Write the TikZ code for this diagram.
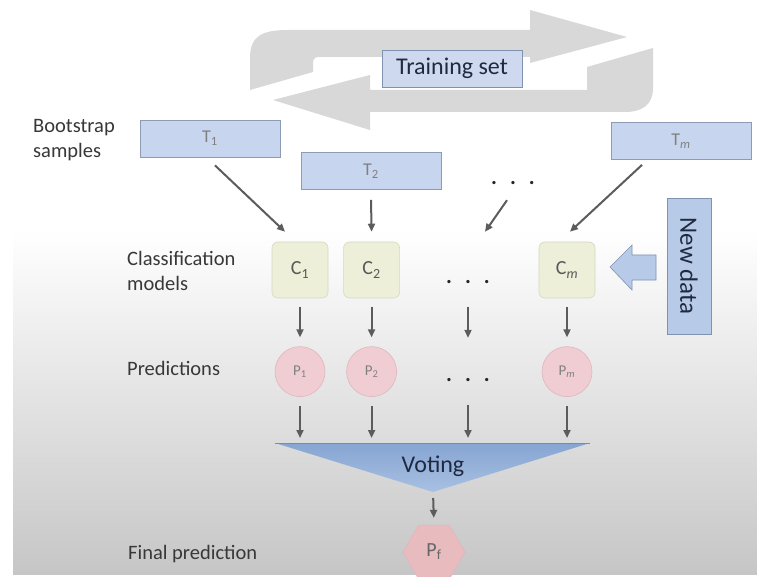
\documentclass[tikz,border=0pt]{standalone}
\usepackage{fontspec}
\setmainfont{Carlito}
\usepackage{tikz}
\usetikzlibrary{arrows.meta,positioning,shapes.geometric}
\definecolor{bgGrey}{HTML}{C6C6C6}
\definecolor{bgMid}{HTML}{EEEEEE}
\definecolor{loopGrey}{HTML}{D8D8D8}
\definecolor{sampleFill}{HTML}{C8D5EE}
\definecolor{sampleEdge}{HTML}{8D9BB5}
\definecolor{trainFill}{HTML}{CED8EF}
\definecolor{inkNavy}{HTML}{1F2A40}
\definecolor{modelFill}{HTML}{EDEFD9}
\definecolor{modelEdge}{HTML}{D6D9BF}
\definecolor{predFill}{HTML}{F0CDD3}
\definecolor{predEdge}{HTML}{E0B6BE}
\definecolor{finalFill}{HTML}{E8BBBF}
\definecolor{voteTop}{HTML}{86A5D2}
\definecolor{voteLow}{HTML}{A8C0E2}
\definecolor{dataFill}{HTML}{B7CBE8}
\definecolor{dataEdge}{HTML}{7F92B0}
\definecolor{linkGrey}{HTML}{5C5C5C}
\newcommand{\fsz}[1]{\fontsize{#1}{#1}\selectfont}

\begin{document}
\begin{tikzpicture}[x=1pt, y=-1pt,
  lbl/.style={font=\fontsize{20.5pt}{25pt}\selectfont, text=black!78, align=left, anchor=west, inner sep=0pt},
  sample/.style={draw=sampleEdge, line width=0.8pt, fill=sampleFill, minimum width=140pt,
                 minimum height=37pt, inner sep=0pt, text=black!50, font=\fsz{18}},
  model/.style={draw=modelEdge, line width=0.6pt, fill=modelFill, rounded corners=6pt,
                minimum size=56pt, inner sep=0pt, text=black!65, font=\fsz{20}},
  pred/.style={circle, draw=predEdge, line width=0.6pt, fill=predFill, minimum size=50pt,
               inner sep=0pt, text=black!50, font=\fsz{15}},
  dots/.style={inner sep=0pt, minimum width=44pt, minimum height=10pt, font=\fsz{22}\bfseries, text=black!85},
  link/.style={draw=linkGrey, line width=2pt, -{Triangle[length=8pt,width=7pt]}},
  loop/.style={fill=loopGrey}
]
  % page and soft grey floor
  \fill[white] (0,0) rectangle (757,577);
  \shade[top color=white, middle color=bgMid, bottom color=bgGrey] (13,230) rectangle (757,574);
  \useasboundingbox (0,0) rectangle (757,577);

  % the two turning arrows round the training set
  \fill[loop] (250,90) -- (250,58) .. controls (250,36) and (262,30) .. (288,30) -- (530,30)
    -- (530,10) -- (627,37) -- (530,63) -- (530,57) -- (318,57)
    .. controls (314,57) and (313,60) .. (313,64) -- (313,72) -- cycle;
  \fill[loop] (273,100) -- (370,75) -- (370,90) -- (587,90) -- (587,67) -- (653,48) -- (653,88)
    .. controls (653,104) and (643,112) .. (625,112) -- (370,112) -- (370,130) -- cycle;
  \node[draw=dataEdge, line width=0.8pt, fill=trainFill, minimum width=140pt, minimum height=37pt,
        text=inkNavy, font=\fsz{24}] (trainset) at (452,68.5) {Training set};

  % row labels
  \node[lbl] (bootlbl) at (33,140) {Bootstrap\\samples};
  \node[lbl] (classlbl) at (127,271) {Classification\\models};
  \node[lbl] (predlbl) at (127,368) {Predictions};
  \node[lbl] (finallbl) at (128,554) {Final prediction};

  % bootstrap samples
  \node[sample] (t1) at (210,138.5) {T\textsubscript{1}};
  \node[sample] (t2) at (371,171) {T\textsubscript{2}};
  \node[sample] (tm) at (681,141) {T\textsubscript{\textit{m}}};
  \node[dots] (dotsT) at (513,183) {.\hspace{13pt}.\hspace{13pt}.};

  % classification models
  \node[model] (c1) at (300,270) {C\textsubscript{1}};
  \node[model, right=15pt of c1] (c2) {C\textsubscript{2}};
  \node[dots] (dotsC) at (468,282) {.\hspace{13pt}.\hspace{13pt}.};
  \node[model] (cm) at (567,270) {C\textsubscript{\textit{m}}};

  % new data coming in
  \node[draw=dataEdge, line width=0.8pt, fill=dataFill, rotate=-90, minimum width=136pt,
        minimum height=44pt, inner sep=0pt, text=inkNavy, font=\fsz{25}] (newdata) at (689,266) {New data};
  \filldraw[fill=dataFill, draw=dataEdge, line width=0.6pt]
    (610,267) -- (632,245) -- (632,255) -- (656,255) -- (656,280) -- (632,280) -- (632,290) -- cycle;

  % predictions
  \node[pred, below=48pt of c1] (p1) {P\textsubscript{1}};
  \node[pred, below=48pt of c2] (p2) {P\textsubscript{2}};
  \node[dots] (dotsP) at (468,380) {.\hspace{13pt}.\hspace{13pt}.};
  \node[pred, below=48pt of cm] (pm) {P\textsubscript{\textit{m}}};

  % voting
  \coordinate (vtop) at (433,443);
  \coordinate (vapex) at (433,492);
  \shade[top color=voteTop, bottom color=voteLow] (vtop) ++(-158,0) -- ++(315,0) -- (vapex) -- cycle;
  \draw[voteTop!85!black, line width=1pt] (vtop) ++(-158,0) -- ++(315,0);
  \node[text=inkNavy, font=\fsz{24}] (vote) at (433,466) {Voting};
  \node[regular polygon, regular polygon sides=6, minimum size=62pt, inner sep=0pt,
        fill=finalFill, draw=predEdge, line width=0.6pt, text=black!60, font=\fsz{20}] (pf) at (434,552) {P\textsubscript{f}};

  % connectors
  \draw[link] ([xshift=5pt,yshift=-8pt]t1.south) -- ([xshift=-15pt,yshift=10pt]c1.north);
  \draw[link] ([yshift=-10pt]t2.south) -- ([yshift=10pt]c2.north);
  \draw[link] ([xshift=-6pt,yshift=-12pt]dotsT.south) -- ([xshift=17pt,yshift=45pt]dotsC.north);
  \draw[link] ([xshift=-39pt,yshift=-5pt]tm.south) -- ([xshift=3pt,yshift=10pt]cm.north);

  \draw[link] ([yshift=-9pt]c1.south) -- ([yshift=9pt]p1.north);
  \draw[link] ([yshift=-9pt]c2.south) -- ([yshift=9pt]p2.north);
  \draw[link] ([yshift=-20pt]dotsC.south) -- ([yshift=37pt]dotsP.north);
  \draw[link] ([yshift=-9pt]cm.south) -- ([yshift=9pt]pm.north);

  \draw[link, shorten >=5pt] ([yshift=-9pt]p1.south) -- (p1.south |- vtop);
  \draw[link, shorten >=5pt] ([yshift=-9pt]p2.south) -- (p2.south |- vtop);
  \draw[link, shorten >=5pt] ([yshift=-20pt]dotsP.south) -- (dotsP.south |- vtop);
  \draw[link, shorten >=5pt] ([yshift=-9pt]pm.south) -- (pm.south |- vtop);
  \draw[link, shorten <=6pt, shorten >=7pt] (vapex) -- (pf.north);
\end{tikzpicture}
\end{document}
